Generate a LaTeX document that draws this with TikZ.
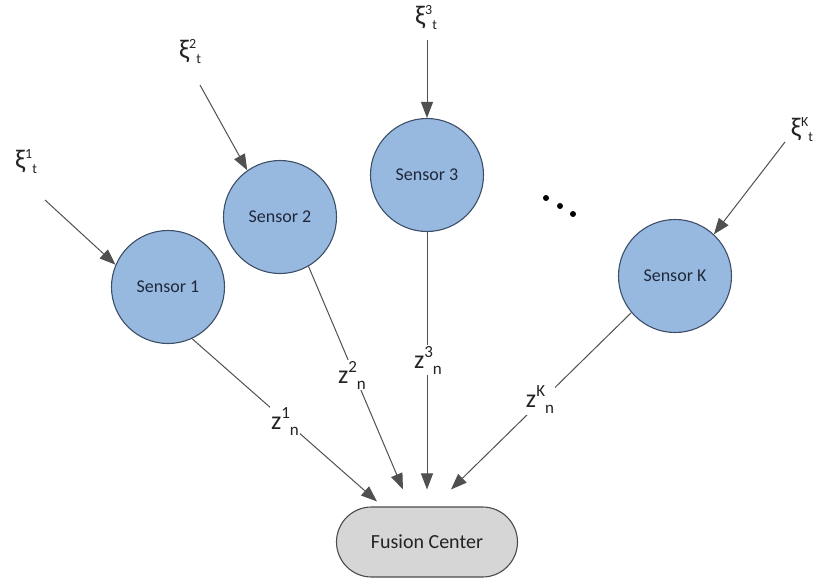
\documentclass[tikz,border=0pt]{standalone}
\usepackage{fontspec}
\setmainfont{Carlito}
\usetikzlibrary{arrows.meta}
\definecolor{sfill}{RGB}{152,185,223}
\definecolor{sdraw}{RGB}{60,80,105}
\definecolor{ffill}{RGB}{214,214,214}
\definecolor{fdraw}{RGB}{75,75,75}
\definecolor{lcol}{RGB}{80,80,80}
\definecolor{tcol}{RGB}{35,35,35}
\definecolor{stcol}{RGB}{30,40,60}
\newcommand{\xilab}[1]{{\fontsize{27}{29}\selectfont ξ}\raisebox{10pt}{\fontsize{14}{15}\selectfont #1}\raisebox{-5pt}{\fontsize{14}{15}\selectfont t}}
\newcommand{\zlab}[1]{{\fontsize{26}{28}\selectfont z}\raisebox{11pt}{\fontsize{17}{18}\selectfont #1}\raisebox{-6pt}{\fontsize{17}{18}\selectfont n}}
\begin{document}
\begin{tikzpicture}[x=1pt,y=-1pt,
 sensor/.style={circle,draw=sdraw,fill=sfill,line width=1.1pt,minimum size=113pt,inner sep=0pt,font=\fontsize{18}{21}\selectfont,text=stcol},
 fusion/.style={rectangle,rounded corners=35pt,draw=fdraw,fill=ffill,line width=1.1pt,minimum width=181pt,minimum height=70pt,font=\fontsize{20}{24}\selectfont,text=tcol},
 conn/.style={draw=lcol,line width=1pt,-{Triangle[length=16pt,width=12pt]}},
 lab/.style={fill=white,inner sep=1pt,text=tcol},
 xil/.style={inner sep=0pt,text=tcol}]
\useasboundingbox (0,0) rectangle (817,584);

\node[sensor] (s1) at (168,287) {Sensor 1};
\node[sensor] (s2) at (280,217) {Sensor 2};
\node[sensor] (s3) at (427,175) {Sensor 3};
\node[sensor] (sK) at (675,276) {Sensor K};
\node[fusion] (fc) at (427,542) {Fusion Center};

\node[xil] (x1) at (26,162) {\xilab{1}};
\node[xil] (x2) at (190,52) {\xilab{2}};
\node[xil] (x3) at (426,18) {\xilab{3}};
\node[xil] (xK) at (802,130) {\xilab{K}};

\coordinate (a1) at (45,200);
\coordinate (a2) at (200,85);
\coordinate (a3) at (427,40);
\coordinate (aK) at (785,142);

\draw[conn] (a1) -- (s1.157);
\draw[conn] (a2) -- (s2.125);
\draw[conn] (a3) -- (s3.north);
\draw[conn] (aK) -- (sK.47);

\coordinate (t1) at ([shift={(-50,-5)}]fc.north);
\coordinate (t2) at ([shift={(-24,-17)}]fc.north);
\coordinate (t3) at ([shift={(0,-17)}]fc.north);
\coordinate (t4) at ([shift={(24,-17)}]fc.north);

\draw[conn] (s1.-65) -- (t1);
\draw[conn] (s2.-60) -- (t2);
\draw[conn] (s3.south) -- (t3);
\draw[conn] (sK.-140) -- (t4);

\node[lab] (z1) at (285,422) {\zlab{1}};
\node[lab] (z2) at (352,375) {\zlab{2}};
\node[lab] (z3) at (428,360) {\zlab{3}};
\node[lab] (zK) at (540,400) {\zlab{K}};

\fill[black] (546,198) circle (3pt) (560,206) circle (3pt) (573,214) circle (3pt);
\end{tikzpicture}
\end{document}
